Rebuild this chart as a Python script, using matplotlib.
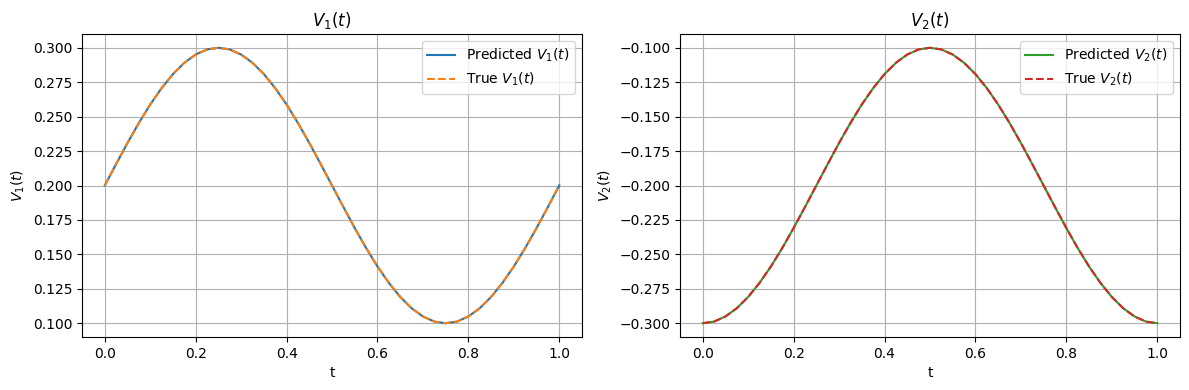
import numpy as np
import matplotlib
matplotlib.use('Agg')
import matplotlib.pyplot as plt

# time samples (step 0.025)
t = [0.0, 0.025, 0.05, 0.075, 0.1, 0.125, 0.15, 0.175, 0.2, 0.225,
     0.25, 0.275, 0.3, 0.325, 0.35, 0.375, 0.4, 0.425, 0.45, 0.475,
     0.5, 0.525, 0.55, 0.575, 0.6, 0.625, 0.65, 0.675, 0.7, 0.725,
     0.75, 0.775, 0.8, 0.825, 0.85, 0.875, 0.9, 0.925, 0.95, 0.975, 1.0]

# V1 values
v1_true = [0.2, 0.2156, 0.2309, 0.2454, 0.2588, 0.2707, 0.2809, 0.2891, 0.2951, 0.2988,
           0.3, 0.2988, 0.2951, 0.2891, 0.2809, 0.2707, 0.2588, 0.2454, 0.2309, 0.2156,
           0.2, 0.1844, 0.1691, 0.1546, 0.1412, 0.1293, 0.1191, 0.1109, 0.1049, 0.1012,
           0.1, 0.1012, 0.1049, 0.1109, 0.1191, 0.1293, 0.1412, 0.1546, 0.1691, 0.1844, 0.2]
v1_pred = [0.2001, 0.2156, 0.2309, 0.2454, 0.2588, 0.2707, 0.2809, 0.2891, 0.2951, 0.2988,
           0.3, 0.2988, 0.2951, 0.2891, 0.2809, 0.2707, 0.2588, 0.2454, 0.2309, 0.2156,
           0.2, 0.1844, 0.1691, 0.1546, 0.1412, 0.1293, 0.1191, 0.1109, 0.1049, 0.1012,
           0.1, 0.1012, 0.1049, 0.1109, 0.1191, 0.1293, 0.1412, 0.1546, 0.1691, 0.1844, 0.2001]

# V2 values
v2_true = [-0.3, -0.2988, -0.2951, -0.2891, -0.2809, -0.2707, -0.2588, -0.2454, -0.2309, -0.2156,
           -0.2, -0.1844, -0.1691, -0.1546, -0.1412, -0.1293, -0.1191, -0.1109, -0.1049, -0.1012,
           -0.1, -0.1012, -0.1049, -0.1109, -0.1191, -0.1293, -0.1412, -0.1546, -0.1691, -0.1844,
           -0.2, -0.2156, -0.2309, -0.2454, -0.2588, -0.2707, -0.2809, -0.2891, -0.2951, -0.2988, -0.3]
v2_pred = [-0.3, -0.2988, -0.2951, -0.2891, -0.2809, -0.2707, -0.2588, -0.2454, -0.2309, -0.2156,
           -0.2, -0.1844, -0.1691, -0.1546, -0.1412, -0.1293, -0.1191, -0.1109, -0.1049, -0.1012,
           -0.1, -0.1012, -0.1049, -0.1109, -0.1191, -0.1293, -0.1412, -0.1546, -0.1691, -0.1844,
           -0.2, -0.2156, -0.2309, -0.2454, -0.2588, -0.2707, -0.2809, -0.2891, -0.2951, -0.2988, -0.3]

fig, (ax1, ax2) = plt.subplots(1, 2, figsize=(11.89, 3.9), dpi=100)

ax1.plot(t, v1_pred, color='C0', label='Predicted $V_1(t)$')
ax1.plot(t, v1_true, '--', color='C1', label='True $V_1(t)$')
ax1.set_title('$V_1(t)$')
ax1.set_xlabel('t'); ax1.set_ylabel('$V_1(t)$')
ax1.legend(loc='upper right')
ax1.grid(True)

ax2.plot(t, v2_pred, color='C2', label='Predicted $V_2(t)$')
ax2.plot(t, v2_true, '--', color='C3', label='True $V_2(t)$')
ax2.set_title('$V_2(t)$')
ax2.set_xlabel('t'); ax2.set_ylabel('$V_2(t)$')
ax2.legend(loc='upper right')
ax2.grid(True)

fig.subplots_adjust(left=0.069, right=0.9924, top=0.9128, bottom=0.1359, wspace=0.196)
fig.savefig('out.png')
